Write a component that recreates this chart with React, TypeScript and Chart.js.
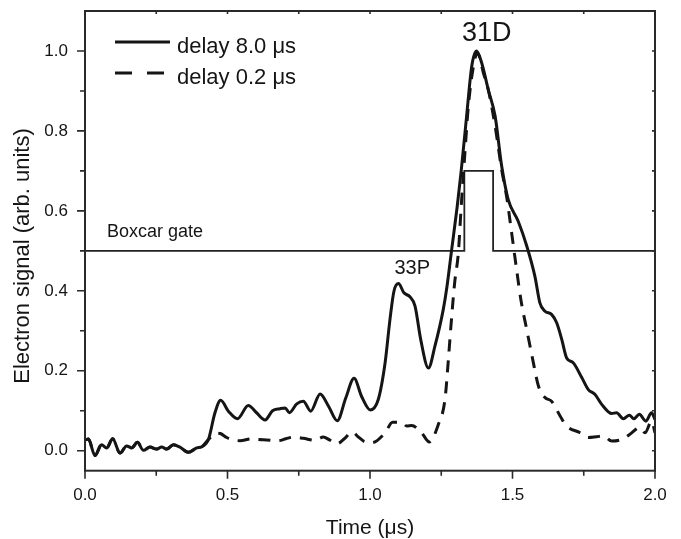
import { useEffect, useRef } from 'react';
import { Chart, registerables } from 'chart.js';

Chart.register(...registerables);

// ---- data ----
const timeSlow = [0, 0.012, 0.035, 0.058, 0.076, 0.097, 0.123, 0.146, 0.164, 0.184, 0.205, 0.228, 0.251, 0.269, 0.287, 0.31, 0.333, 0.363, 0.392, 0.41, 0.433, 0.456, 0.476, 0.503, 0.535, 0.573, 0.602, 0.632, 0.658, 0.684, 0.702, 0.717, 0.743, 0.766, 0.792, 0.825, 0.854, 0.885, 0.915, 0.944, 0.971, 1.001, 1.029, 1.053, 1.07, 1.084, 1.1, 1.119, 1.14, 1.158, 1.178, 1.205, 1.228, 1.257, 1.27, 1.286, 1.306, 1.32, 1.339, 1.357, 1.374, 1.392, 1.415, 1.439, 1.462, 1.485, 1.52, 1.55, 1.579, 1.596, 1.614, 1.637, 1.655, 1.673, 1.69, 1.713, 1.743, 1.766, 1.789, 1.813, 1.848, 1.865, 1.889, 1.91, 1.926, 1.945, 1.968, 1.988, 2.0];
const signalSlow = [0.027, 0.029, -0.012, 0.015, 0.007, 0.030, -0.006, 0.012, 0.007, 0.021, 0.001, 0.009, 0.004, 0.009, 0.004, 0.015, 0.009, -0.004, 0.007, 0.010, 0.028, 0.095, 0.126, 0.099, 0.080, 0.113, 0.095, 0.077, 0.100, 0.105, 0.107, 0.095, 0.117, 0.124, 0.099, 0.142, 0.112, 0.075, 0.132, 0.181, 0.135, 0.102, 0.128, 0.220, 0.328, 0.399, 0.418, 0.395, 0.385, 0.362, 0.278, 0.207, 0.262, 0.353, 0.410, 0.500, 0.611, 0.700, 0.837, 0.962, 1.000, 0.970, 0.903, 0.837, 0.712, 0.628, 0.574, 0.512, 0.435, 0.370, 0.349, 0.341, 0.320, 0.278, 0.232, 0.220, 0.183, 0.153, 0.141, 0.116, 0.093, 0.095, 0.080, 0.089, 0.080, 0.091, 0.074, 0.095, 0.078];

const timeFast = [0, 0.012, 0.035, 0.058, 0.076, 0.097, 0.123, 0.146, 0.164, 0.184, 0.205, 0.228, 0.251, 0.269, 0.287, 0.31, 0.333, 0.363, 0.392, 0.41, 0.433, 0.462, 0.475, 0.497, 0.52, 0.544, 0.585, 0.61, 0.637, 0.678, 0.705, 0.731, 0.766, 0.807, 0.836, 0.858, 0.883, 0.91, 0.938, 0.958, 0.98, 1.006, 1.053, 1.079, 1.111, 1.129, 1.146, 1.181, 1.208, 1.24, 1.263, 1.275, 1.284, 1.297, 1.31, 1.32, 1.333, 1.345, 1.363, 1.377, 1.398, 1.415, 1.439, 1.462, 1.48, 1.497, 1.515, 1.53, 1.55, 1.571, 1.591, 1.614, 1.637, 1.667, 1.69, 1.737, 1.766, 1.795, 1.819, 1.848, 1.883, 1.912, 1.947, 1.965, 1.988, 2.0];
const signalFast = [0.027, 0.029, -0.012, 0.015, 0.007, 0.030, -0.006, 0.012, 0.007, 0.021, 0.001, 0.009, 0.004, 0.009, 0.004, 0.015, 0.009, -0.004, 0.007, 0.010, 0.028, 0.044, 0.043, 0.033, 0.027, 0.025, 0.030, 0.028, 0.027, 0.025, 0.030, 0.034, 0.031, 0.026, 0.034, 0.027, 0.017, 0.030, 0.047, 0.035, 0.023, 0.020, 0.045, 0.071, 0.071, 0.062, 0.063, 0.045, 0.022, 0.066, 0.128, 0.228, 0.312, 0.420, 0.495, 0.611, 0.745, 0.861, 0.962, 0.995, 0.945, 0.903, 0.812, 0.703, 0.633, 0.545, 0.450, 0.375, 0.303, 0.228, 0.162, 0.133, 0.124, 0.087, 0.062, 0.045, 0.033, 0.035, 0.037, 0.024, 0.028, 0.041, 0.058, 0.045, 0.074, 0.045];

const gateTime = [0, 1.331, 1.331, 1.432, 1.432, 2.0];
const gateLevel = [0.5, 0.5, 0.7, 0.7, 0.5, 0.5];

const xMajorTicks = [0, 0.5, 1.0, 1.5, 2.0];
const xTickLabels = ['0.0', '0.5', '1.0', '1.5', '2.0'];
const xMinorTicks = [0.25, 0.75, 1.25, 1.75];
const yMajorTicks = [0, 0.2, 0.4, 0.6, 0.8, 1.0];
const yTickLabels = ['0.0', '0.2', '0.4', '0.6', '0.8', '1.0'];
const yMinorTicks = [0.1, 0.3, 0.5, 0.7, 0.9];

const seriesLabels = ['delay 8.0 \u03bcs', 'delay 0.2 \u03bcs'];
const xTitle = 'Time (\u03bcs)';
const yTitle = 'Electron signal (arb. units)';
const gateLabel = 'Boxcar gate';
const peakLabels = ['31D', '33P'];
// annotation anchors in data units
const peakLabelX = [1.41, 1.148];
const peakLabelY = [1.024, 0.441];
const gateLabelX = 0.077;
const gateLabelY = 0.535;

// ---- styles ----
const FONT = '"Liberation Sans", Arial, Helvetica, sans-serif';
const INK = '#151515';
const AXIS = '#2a2a2a';

const decorPlugin = {
  id: 'decor',
  afterDraw(chart: any) {
    const { ctx, chartArea: a, scales } = chart;
    const x = scales.x;
    const y = scales.y;
    ctx.save();
    // frame
    ctx.strokeStyle = AXIS;
    ctx.lineWidth = 2;
    ctx.strokeRect(a.left, a.top, a.right - a.left, a.bottom - a.top);
    // ticks
    ctx.lineWidth = 1.6;
    ctx.beginPath();
    xMajorTicks.forEach((v) => {
      const p = x.getPixelForValue(v);
      ctx.moveTo(p, a.bottom); ctx.lineTo(p, a.bottom + 8);
      ctx.moveTo(p, a.top); ctx.lineTo(p, a.top + 3);
    });
    xMinorTicks.forEach((v) => {
      const p = x.getPixelForValue(v);
      ctx.moveTo(p, a.bottom); ctx.lineTo(p, a.bottom + 5);
      ctx.moveTo(p, a.top); ctx.lineTo(p, a.top + 3);
    });
    yMajorTicks.forEach((v) => {
      const p = y.getPixelForValue(v);
      ctx.moveTo(a.left, p); ctx.lineTo(a.left - 8, p);
      ctx.moveTo(a.right, p); ctx.lineTo(a.right - 3, p);
    });
    yMinorTicks.forEach((v) => {
      const p = y.getPixelForValue(v);
      ctx.moveTo(a.left, p); ctx.lineTo(a.left - 5, p);
      ctx.moveTo(a.right, p); ctx.lineTo(a.right - 3, p);
    });
    ctx.stroke();

    ctx.fillStyle = INK;
    // axis titles
    ctx.font = `21px ${FONT}`;
    ctx.textAlign = 'center';
    ctx.textBaseline = 'middle';
    ctx.fillText(xTitle, (a.left + a.right) / 2, 528);
    ctx.save();
    ctx.translate(23, 256);
    ctx.rotate(-Math.PI / 2);
    ctx.font = `22px ${FONT}`;
    ctx.fillText(yTitle, 0, 0);
    ctx.restore();

    // annotations
    ctx.textBaseline = 'alphabetic';
    ctx.textAlign = 'center';
    ctx.font = `27px ${FONT}`;
    ctx.fillText(peakLabels[0], x.getPixelForValue(peakLabelX[0]), y.getPixelForValue(peakLabelY[0]));
    ctx.font = `20px ${FONT}`;
    ctx.fillText(peakLabels[1], x.getPixelForValue(peakLabelX[1]), y.getPixelForValue(peakLabelY[1]));
    ctx.textAlign = 'left';
    ctx.font = `18px ${FONT}`;
    ctx.fillText(gateLabel, x.getPixelForValue(gateLabelX), y.getPixelForValue(gateLabelY));

    // legend
    const lx0 = a.left + 30;
    const lx1 = a.left + 85;
    const ly = [a.top + 31, a.top + 62];
    ctx.strokeStyle = INK;
    ctx.lineWidth = 3;
    ctx.beginPath();
    ctx.moveTo(lx0, ly[0]); ctx.lineTo(lx1, ly[0]);
    ctx.stroke();
    ctx.setLineDash([17, 15]);
    ctx.beginPath();
    ctx.moveTo(lx0, ly[1]); ctx.lineTo(lx1, ly[1]);
    ctx.stroke();
    ctx.setLineDash([]);
    ctx.font = `22px ${FONT}`;
    ctx.textAlign = 'left';
    ctx.fillText(seriesLabels[0], a.left + 92, ly[0] + 11);
    ctx.fillText(seriesLabels[1], a.left + 92, ly[1] + 11);
    ctx.restore();
  },
};

function zeroPadding(s: any) {
  s.paddingTop = 0;
  s.paddingBottom = 0;
  s.paddingLeft = 0;
  s.paddingRight = 0;
}

export default function App() {
  const ref = useRef<HTMLCanvasElement | null>(null);

  useEffect(() => {
    if (!ref.current) return;
    const slow = timeSlow.map((t, i) => ({ x: t, y: signalSlow[i] }));
    const fast = timeFast.map((t, i) => ({ x: t, y: signalFast[i] }));
    const gate = gateTime.map((t, i) => ({ x: t, y: gateLevel[i] }));
    const chart = new Chart(ref.current, {
      type: 'line',
      data: {
        datasets: [
          {
            label: seriesLabels[0],
            data: slow,
            borderColor: INK,
            borderWidth: 3,
            pointRadius: 0,
            cubicInterpolationMode: 'monotone',
            borderJoinStyle: 'round',
            fill: false,
          },
          {
            label: seriesLabels[1],
            data: fast,
            borderColor: INK,
            borderWidth: 3,
            borderDash: [12, 9],
            pointRadius: 0,
            cubicInterpolationMode: 'monotone',
            fill: false,
          },
          {
            label: gateLabel,
            data: gate,
            borderColor: '#222',
            borderWidth: 1.8,
            pointRadius: 0,
            tension: 0,
            fill: false,
          },
        ],
      },
      options: {
        responsive: false,
        animation: false,
        devicePixelRatio: 1,
        layout: { autoPadding: false, padding: { left: 0, top: 11, right: 26, bottom: 0 } },
        plugins: { legend: { display: false }, tooltip: { enabled: false } },
        scales: {
          x: {
            type: 'linear',
            min: 0,
            max: 2,
            grid: { display: false, drawTicks: false },
            border: { display: false },
            afterBuildTicks: (s: any) => { s.ticks = xMajorTicks.map((v) => ({ value: v })); },
            afterFit: (s: any) => { s.height = 68.3; zeroPadding(s); },
            ticks: {
              padding: 14,
              autoSkip: false,
              maxRotation: 0,
              color: INK,
              font: { family: FONT, size: 17 },
              callback: (_v: any, i: number) => xTickLabels[i],
            },
          },
          y: {
            type: 'linear',
            min: -0.05,
            max: 1.1,
            grid: { display: false, drawTicks: false },
            border: { display: false },
            afterBuildTicks: (s: any) => { s.ticks = yMajorTicks.map((v) => ({ value: v })); },
            afterFit: (s: any) => { s.width = 85; zeroPadding(s); },
            ticks: {
              padding: 17,
              autoSkip: false,
              color: INK,
              font: { family: FONT, size: 17 },
              callback: (_v: any, i: number) => yTickLabels[i],
            },
          },
        },
      },
      plugins: [decorPlugin],
    });
    return () => chart.destroy();
  }, []);

  return (
    <div style={{ position: 'fixed', left: 0, top: 0, width: 681, height: 539, background: '#fff' }}>
      <canvas ref={ref} width={681} height={539} style={{ width: 681, height: 539, display: 'block' }} />
    </div>
  );
}
